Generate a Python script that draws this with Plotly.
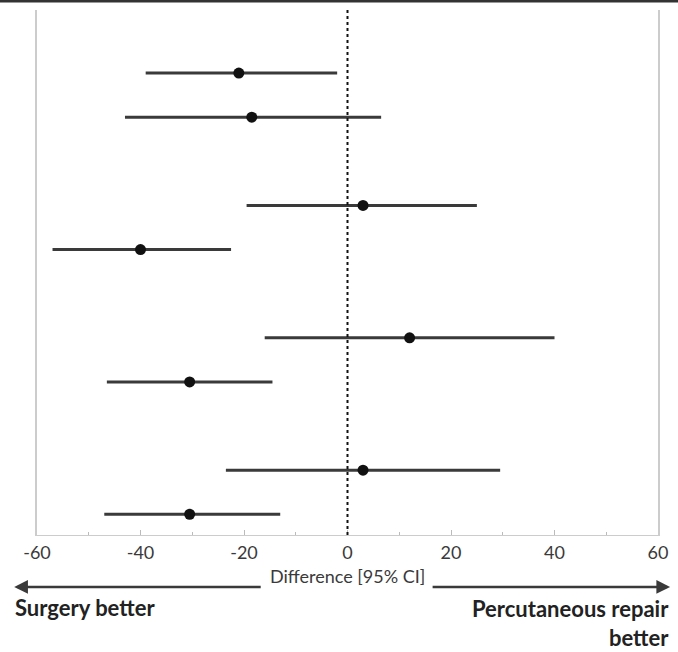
import plotly.graph_objects as go

# Data (rows from top to bottom; slot positions include empty header slots)
slots = [1, 2, 4, 5, 7, 8, 10, 11]
point = [-21.0, -18.5, 3.0, -40.0, 12.0, -30.5, 3.0, -30.5]
lower = [-39.0, -43.0, -19.5, -57.0, -16.0, -46.5, -23.5, -47.0]
upper = [-2.0, 6.5, 25.0, -22.5, 40.0, -14.5, 29.5, -13.0]

x_ticks = [-60, -40, -20, 0, 20, 40, 60]
x_ticktext = ["-60", "-40", "-20", "0", "20", "40", "60"]
x_title = "Difference [95% CI]"
left_label = "Surgery better"
right_label = "Percutaneous repair<br>better"

FONT = "Lato, Carlito, 'Liberation Sans', sans-serif"
LINE = "#3a3a3a"

fig = go.Figure()
fig.add_trace(go.Scatter(
    x=point, y=slots, mode="markers",
    marker=dict(color="#111", size=11),
    error_x=dict(type="data", symmetric=False,
                 array=[u - p for u, p in zip(upper, point)],
                 arrayminus=[p - l for p, l in zip(point, lower)],
                 color=LINE, thickness=3, width=0),
    showlegend=False, hoverinfo="x",
))

# zero reference line
fig.add_shape(type="line", xref="x", yref="paper", x0=0, x1=0, y0=0, y1=1,
              line=dict(color="#111", width=2, dash="dot"))
# top border line across full width
fig.add_shape(type="line", xref="paper", yref="paper", x0=-0.1, x1=1.1,
              y0=1.017, y1=1.017, line=dict(color="#333", width=3))

annotations = [
    dict(xref="paper", yref="paper", x=0.5, y=-0.079, yanchor="middle",
         text=x_title, showarrow=False,
         font=dict(family=FONT, size=18, color="#3a3a3a")),
    dict(xref="paper", yref="paper", x=-0.0367, y=-0.099, ax=248, ay=0,
         text="", showarrow=True, arrowhead=2, arrowsize=1.1, arrowwidth=2.5,
         arrowcolor=LINE),
    dict(xref="paper", yref="paper", x=1.0195, y=-0.099, ax=-239, ay=0,
         text="", showarrow=True, arrowhead=2, arrowsize=1.1, arrowwidth=2.5,
         arrowcolor=LINE),
    dict(xref="paper", yref="paper", x=-0.038, y=-0.139, xanchor="left", yanchor="middle",
         text="<b>" + left_label + "</b>", showarrow=False,
         font=dict(family=FONT, size=22, color="#222")),
    dict(xref="paper", yref="paper", x=1.021, y=-0.139, xanchor="right", yanchor="top",
         yshift=15, align="right",
         text="<b>" + right_label + "</b>", showarrow=False,
         font=dict(family=FONT, size=22, color="#222")),
]

fig.update_layout(
    width=678, height=652,
    margin=dict(l=37, r=13, t=10, b=117),
    plot_bgcolor="white", paper_bgcolor="white",
    font=dict(family=FONT, size=18, color="#3a3a3a"),
    annotations=annotations,
    xaxis=dict(range=[-60, 60], tickvals=x_ticks, ticktext=x_ticktext,
               ticks="inside", ticklen=5, tickcolor="#bbb",
               showgrid=False, zeroline=False,
               showline=True, linecolor="#ccc", linewidth=1,
               ticklabelstandoff=1,
               minor=dict(dtick=10, ticks="inside", ticklen=3, tickcolor="#bbb"),
               tickfont=dict(size=18, color="#3a3a3a")),
    yaxis=dict(range=[11.47, -0.43], showticklabels=False, ticks="",
               showgrid=False, zeroline=False,
               showline=True, mirror=True, linecolor="#ccc", linewidth=1.5),
)

fig.write_html("out.html")
